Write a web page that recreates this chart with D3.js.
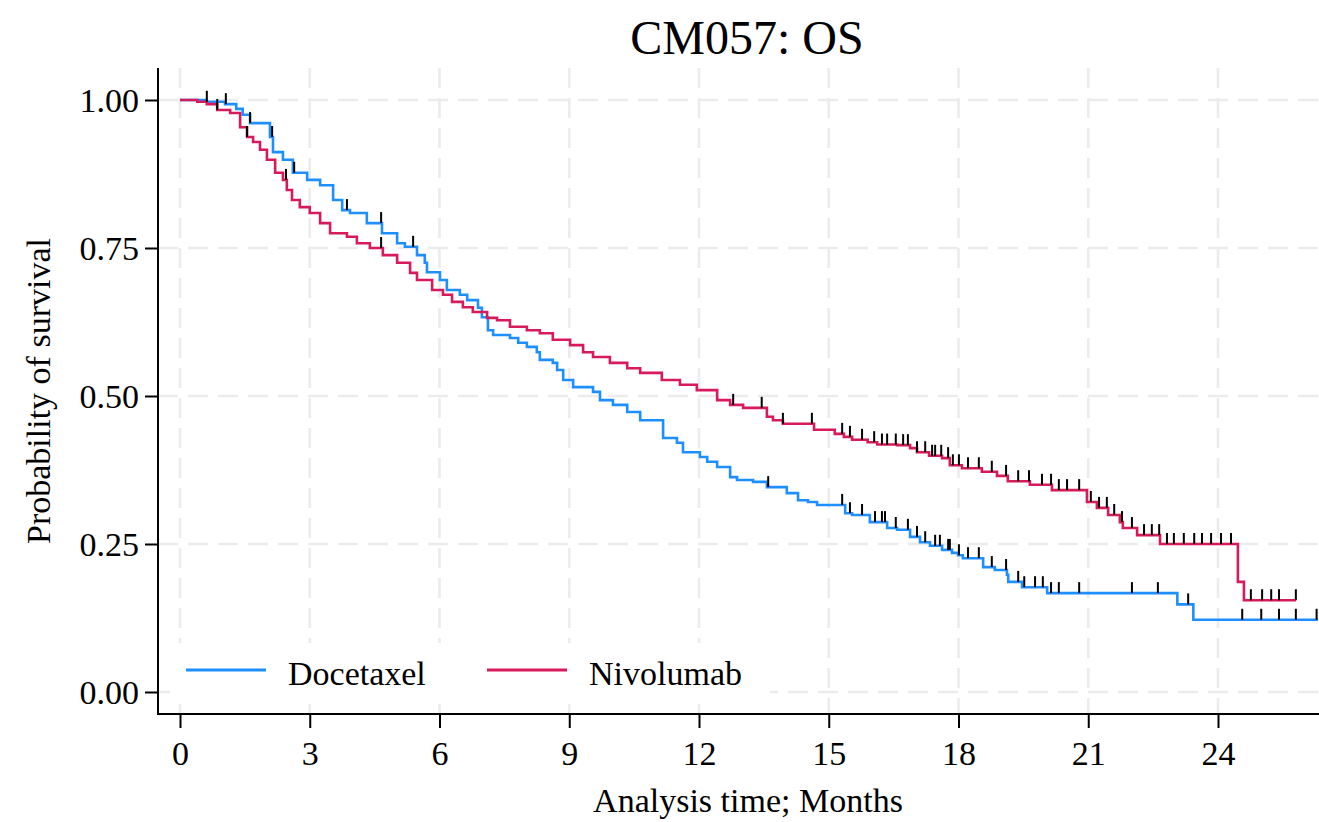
<!DOCTYPE html>
<html>
<head>
<meta charset="utf-8">
<script src="https://cdn.jsdelivr.net/npm/d3@7"></script>
<style>
    body { margin: 0; background: #fff; }
    svg text { font-family: "Liberation Serif", "Times New Roman", serif; fill: #000; }
</style>
</head>
<body>
<div id="chart"></div>
<script>
// Dimensions of the page.
var width = 1319;
var height = 822;

// Kaplan-Meier steps: time in months, survival after the drop.
var docTime = [0, 0.62, 1.04, 1.3, 1.45, 1.62, 2.08, 2.15, 2.38, 2.61, 2.94, 3.24, 3.54, 3.75, 3.93,
    4.32, 4.67, 5.02, 5.2, 5.48, 5.66, 5.71, 6.01, 6.17, 6.47, 6.64, 6.89, 6.98, 7.12, 7.24, 7.63,
    7.82, 8.02, 8.25, 8.32, 8.62, 8.72, 8.86, 9.09, 9.55, 9.71, 10.01, 10.34, 10.64, 11.17, 11.49,
    11.63, 12.02, 12.19, 12.42, 12.72, 12.88, 13.25, 13.57, 14.03, 14.29, 14.52, 14.73, 15.38, 15.54,
    15.95, 16.35, 16.58, 16.88, 17.11, 17.34, 17.62, 17.85, 17.99, 18.1, 18.57, 18.84, 19.12, 19.15,
    19.47, 20.05, 23.06, 23.43, 26.31];
var docSurv = [1, 0.997, 0.993, 0.985, 0.975, 0.961, 0.9375, 0.912, 0.899, 0.877, 0.865, 0.856, 0.831, 0.814, 0.809,
    0.792, 0.775, 0.758, 0.752, 0.738, 0.725, 0.709, 0.696, 0.679, 0.671, 0.662, 0.649, 0.633, 0.611, 0.603, 0.598,
    0.590, 0.583, 0.574, 0.561, 0.556, 0.544, 0.527, 0.515, 0.507, 0.493, 0.485, 0.473, 0.459, 0.429, 0.421,
    0.405, 0.397, 0.389, 0.380, 0.363, 0.358, 0.355, 0.346, 0.336, 0.324, 0.321, 0.316, 0.302, 0.299,
    0.287, 0.277, 0.274, 0.262, 0.253, 0.247, 0.240, 0.235, 0.231, 0.226, 0.211, 0.206, 0.198, 0.186,
    0.177, 0.167, 0.148, 0.122, 0.122];

var nivoTime = [0, 0.4, 0.62, 0.86, 1.16, 1.39, 1.55, 1.69, 1.85, 2.01, 2.2, 2.38, 2.47, 2.59, 2.77,
    3.0, 3.24, 3.47, 3.86, 4.09, 4.39, 4.69, 5.02, 5.32, 5.48, 5.83, 6.08, 6.29, 6.54, 6.77, 7.1,
    7.33, 7.63, 8.02, 8.32, 8.62, 9.02, 9.32, 9.55, 9.94, 10.34, 10.64, 11.14, 11.56, 11.95, 12.42,
    12.72, 13.02, 13.57, 13.71, 13.94, 14.66, 15.14, 15.35, 15.54, 15.9, 16.12, 16.58, 16.88, 17.04,
    17.32, 17.62, 17.8, 18.08, 18.54, 18.89, 19.14, 19.65, 20.16, 20.97, 21.2, 21.46, 21.73, 21.8,
    22.13, 22.66, 24.46, 24.6, 25.8];
var nivoSurv = [1, 0.997, 0.993, 0.983, 0.978, 0.954, 0.9375, 0.929, 0.916, 0.899, 0.877, 0.865, 0.848, 0.831, 0.819,
    0.809, 0.792, 0.775, 0.769, 0.758, 0.75, 0.738, 0.725, 0.708, 0.696, 0.679, 0.671, 0.659, 0.650, 0.642, 0.632,
    0.628, 0.617, 0.611, 0.606, 0.595, 0.586, 0.574, 0.566, 0.556, 0.547, 0.539, 0.527, 0.519, 0.510, 0.493,
    0.485, 0.480, 0.465, 0.459, 0.453, 0.443, 0.436, 0.431, 0.426, 0.422, 0.418, 0.417, 0.412, 0.405,
    0.399, 0.395, 0.383, 0.378, 0.372, 0.365, 0.356, 0.350, 0.341, 0.321, 0.311, 0.299, 0.287, 0.277,
    0.265, 0.25, 0.186, 0.155, 0.155];

// Censoring times (months).
var docCensor = [0.62, 1.06, 1.62, 2.13, 2.64, 3.86, 4.65, 5.39, 13.6, 15.31, 15.49, 15.77, 16.07, 16.23,
    16.3, 16.55, 16.83, 17.04, 17.23, 17.46, 17.57, 17.76, 17.8, 18.01, 18.22, 18.47, 18.77, 19.1, 19.38,
    19.52, 19.77, 19.95, 20.14, 20.32, 20.79, 22.01, 22.61, 23.31, 24.56, 25.0, 25.41, 25.8, 26.28];
var nivoCensor = [0.86, 1.55, 2.45, 4.65, 12.79, 13.45, 13.94, 14.61, 15.31, 15.49, 15.77, 16.05, 16.23,
    16.35, 16.55, 16.72, 16.83, 17.04, 17.23, 17.39, 17.46, 17.6, 17.76, 17.87, 18.01, 18.22, 18.47, 18.77,
    19.1, 19.38, 19.63, 19.93, 20.14, 20.32, 20.51, 20.79, 21.06, 21.25, 21.43, 21.6, 21.78, 22.01, 22.29,
    22.47, 22.64, 22.82, 22.98, 23.21, 23.45, 23.63, 23.84, 24.07, 24.3, 24.76, 25.02, 25.23, 25.41, 25.8];

var xTicks = [0, 3, 6, 9, 12, 15, 18, 21, 24];
var yTicks = [0, 0.25, 0.5, 0.75, 1];
var groups = ["Docetaxel", "Nivolumab"];
var colors = ["#1e8fff", "#d8195b"];

// Plot frame edges.
var frame = { left: 158, right: 1319, top: 68, bottom: 714 };

var x = d3.scaleLinear().domain([0, 24]).range([180, 1218]);
var y = d3.scaleLinear().domain([0, 1]).range([692, 100]);

var svg = d3.select("#chart").append("svg")
    .attr("width", width)
    .attr("height", height);

// Dashed gridlines.
var grid = svg.append("g")
    .attr("stroke", "#ececec")
    .attr("stroke-width", 2.6)
    .attr("stroke-dasharray", "20,10");

grid.selectAll("line.v")
    .data(xTicks)
    .enter().append("line")
    .attr("class", "v")
    .attr("x1", function(d) { return x(d); })
    .attr("x2", function(d) { return x(d); })
    .attr("y1", frame.top)
    .attr("y2", frame.bottom);

grid.selectAll("line.h")
    .data(yTicks)
    .enter().append("line")
    .attr("class", "h")
    .attr("x1", frame.left)
    .attr("x2", frame.right)
    .attr("y1", function(d) { return y(d); })
    .attr("y2", function(d) { return y(d); });

// Legend box (white, covers the grid).
var legend = svg.append("g");
legend.append("rect")
    .attr("x", 170).attr("y", 643)
    .attr("width", 600).attr("height", 61)
    .attr("fill", "#fff");

var legendX = [186, 487];
groups.forEach(function(name, i) {
    legend.append("line")
        .attr("x1", legendX[i]).attr("x2", legendX[i] + 80)
        .attr("y1", 670).attr("y2", 670)
        .attr("stroke", colors[i])
        .attr("stroke-width", 3);
    legend.append("text")
        .attr("x", legendX[i] + 102)
        .attr("y", 685)
        .style("font-size", "34px")
        .text(name);
});

// Clip the curves to the frame.
svg.append("clipPath").attr("id", "clip")
    .append("rect")
    .attr("x", frame.left).attr("y", frame.top - 20)
    .attr("width", frame.right - frame.left).attr("height", frame.bottom - frame.top + 20);

var plot = svg.append("g").attr("clip-path", "url(#clip)");

var line = d3.line()
    .x(function(d) { return x(d[0]); })
    .y(function(d) { return y(d[1]); })
    .curve(d3.curveStepAfter);

// Look up the survival value at time t.
function survAt(times, surv, t) {
    var i = d3.bisectRight(times, t) - 1;
    return surv[Math.max(0, i)];
}

var series = [
    { times: docTime, surv: docSurv, censor: docCensor, color: colors[0] },
    { times: nivoTime, surv: nivoSurv, censor: nivoCensor, color: colors[1] }
];

series.forEach(function(s) {
    plot.append("path")
        .datum(d3.zip(s.times, s.surv))
        .attr("d", line)
        .attr("fill", "none")
        .attr("stroke", s.color)
        .attr("stroke-width", 2.6);
});

// Censor marks: short black ticks going up from the curve.
series.forEach(function(s) {
    plot.selectAll(null)
        .data(s.censor)
        .enter().append("line")
        .attr("x1", function(d) { return x(d); })
        .attr("x2", function(d) { return x(d); })
        .attr("y1", function(d) { return y(survAt(s.times, s.surv, d)); })
        .attr("y2", function(d) { return y(survAt(s.times, s.surv, d)) - 11; })
        .attr("stroke", "#000")
        .attr("stroke-width", 2);
});

// Axes.
var xAxis = svg.append("g")
    .attr("transform", "translate(0," + frame.bottom + ")")
    .call(d3.axisBottom(x).tickValues(xTicks).tickSize(14).tickPadding(10)
        .tickFormat(d3.format("d")));
var yAxis = svg.append("g")
    .attr("transform", "translate(" + frame.left + ",0)")
    .call(d3.axisLeft(y).tickValues(yTicks).tickSize(13).tickPadding(6)
        .tickFormat(d3.format(".2f")));

[xAxis, yAxis].forEach(function(a) {
    a.select(".domain").remove();
    a.selectAll(".tick line").attr("stroke", "#000").attr("stroke-width", 2);
    a.selectAll(".tick text")
        .style("font-size", "34px")
        .style("font-family", "'Liberation Serif', 'Times New Roman', serif");
});
xAxis.selectAll(".tick text").attr("dy", "0.8em");
yAxis.selectAll(".tick text").attr("dy", "0.33em");

svg.append("path")
    .attr("d", "M" + frame.left + "," + frame.top + "V" + frame.bottom + "H" + frame.right)
    .attr("fill", "none")
    .attr("stroke", "#000")
    .attr("stroke-width", 2);

// Titles.
svg.append("text")
    .attr("x", 747).attr("y", 54)
    .attr("text-anchor", "middle")
    .style("font-size", "48px")
    .text("CM057: OS");

svg.append("text")
    .attr("x", 748).attr("y", 812)
    .attr("text-anchor", "middle")
    .style("font-size", "34px")
    .text("Analysis time; Months");

svg.append("text")
    .attr("transform", "translate(50,391) rotate(-90)")
    .attr("text-anchor", "middle")
    .style("font-size", "34px")
    .text("Probability of survival");
</script>
</body>
</html>
